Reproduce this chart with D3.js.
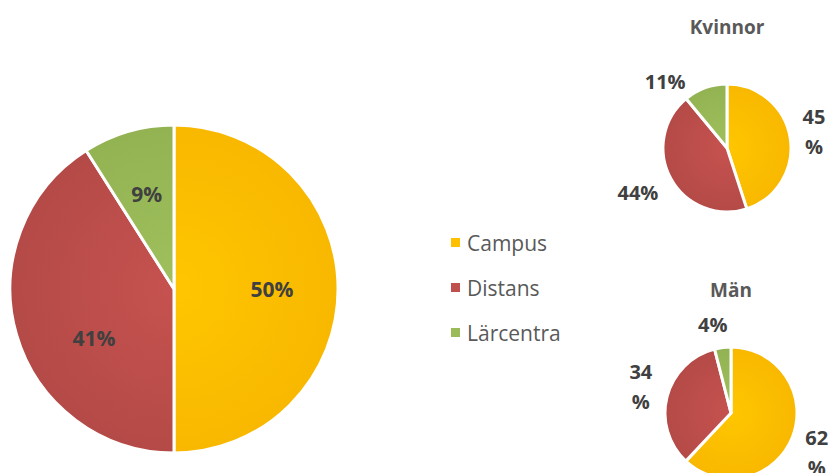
<!DOCTYPE html>
<html>

<head>
  <style>
    body,
    html {
      margin: 0;
      padding: 0;
      background: #fff;
    }

    text {
      font-family: "Open Sans", "DejaVu Sans", sans-serif;
    }
  </style>
</head>

<body>

  <svg id="svg" width="832" height="473"></svg>

  <script src="https://d3js.org/d3.v7.min.js"></script>
  <script>
    const categories = ["Campus", "Distans", "Lärcentra"]
    const totalValues = [50, 41, 9]
    const kvinnorValues = [45, 44, 11]
    const manValues = [62, 34, 4]
    const chartTitles = ["", "Kvinnor", "Män"]

    const colors = ["#FFC000", "#C0504D", "#9BBB59"]
    const edgeColors = ["#F8B800", "#B44A47", "#93B353"]

    const svg = d3.select("#svg")
    const defs = svg.append("defs")

    const color = d3.scaleOrdinal().domain(categories).range(colors)

    const pie = d3.pie().sort(null).value(d => d.value)

    function drawPie(values, opts) {
      const data = categories.map((c, i) => ({ category: c, value: values[i] }))
      const arcs = pie(data)
      const arc = d3.arc().innerRadius(0).outerRadius(opts.r)
      const labelArc = d3.arc().innerRadius(opts.labelR).outerRadius(opts.labelR)

      const g = svg.append("g").attr("transform", `translate(${opts.cx}, ${opts.cy})`)

      // soft radial shading like the office style
      categories.forEach((c, i) => {
        const rg = defs.append("radialGradient")
          .attr("id", `rg-${opts.key}-${i}`)
          .attr("gradientUnits", "userSpaceOnUse")
          .attr("cx", 0).attr("cy", 0).attr("r", opts.r)
        rg.append("stop").attr("offset", "0%").attr("stop-color", d3.color(color(c)).brighter(0.08))
        rg.append("stop").attr("offset", "100%").attr("stop-color", edgeColors[i])
      })

      g.selectAll("path")
        .data(arcs)
        .enter()
        .append("path")
        .attr("d", arc)
        .attr("fill", (d, i) => `url(#rg-${opts.key}-${i})`)
        .attr("stroke", "#fff")
        .attr("stroke-width", opts.stroke)
        .attr("stroke-linejoin", "round")

      const labels = g.selectAll("text.lbl")
        .data(arcs)
        .enter()
        .append("text")
        .attr("class", "lbl")
        .attr("text-anchor", "middle")
        .attr("font-weight", "bold")
        .attr("font-size", opts.fontSize)
        .attr("fill", "#404040")
        .attr("transform", d => {
          const [x, y] = labelArc.centroid(d)
          const n = (opts.nudge && opts.nudge[d.data.category]) || [0, 0]
          return `translate(${x + n[0]}, ${y + n[1]})`
        })

      labels.each(function (d) {
        const wrap = opts.wrap && opts.wrap.includes(d.data.category)
        const t = d3.select(this)
        if (wrap) {
          t.append("tspan").attr("x", 0).attr("dy", "-0.35em").text(String(d.data.value))
          t.append("tspan").attr("x", 0).attr("dy", "1.5em").text("%")
        } else {
          t.append("tspan").attr("x", 0).attr("dy", "0.36em").text(d.data.value + "%")
        }
      })

      if (opts.title) {
        svg.append("text")
          .attr("x", opts.cx)
          .attr("y", opts.titleY)
          .attr("text-anchor", "middle")
          .attr("font-weight", "bold")
          .attr("font-size", 19)
          .attr("fill", "#595959")
          .text(opts.title)
      }
    }

    drawPie(totalValues, {
      key: "all", cx: 174, cy: 289, r: 164, labelR: 98, fontSize: 21, stroke: 3,
      nudge: { "Distans": [14, 22], "Lärcentra": [0, 0] }
    })

    drawPie(kvinnorValues, {
      key: "kv", cx: 727, cy: 148, r: 64, labelR: 88, fontSize: 20, stroke: 3,
      title: chartTitles[1], titleY: 34,
      wrap: ["Campus"],
      nudge: { "Campus": [0, -3], "Distans": [-12, 2], "Lärcentra": [-32, 17] }
    })

    drawPie(manValues, {
      key: "man", cx: 731, cy: 413, r: 66, labelR: 90, fontSize: 20, stroke: 3,
      title: chartTitles[2], titleY: 297,
      wrap: ["Campus", "Distans"],
      nudge: { "Campus": [2, 6], "Distans": [-3, -5], "Lärcentra": [-7, 1] }
    })

    // legend
    const legendY = d3.scalePoint().domain(categories).range([243, 333])
    const legend = svg.append("g")
    legend.selectAll("rect")
      .data(categories)
      .enter()
      .append("rect")
      .attr("x", 451)
      .attr("y", d => legendY(d) - 5)
      .attr("width", 9)
      .attr("height", 9)
      .attr("fill", d => color(d))
    legend.selectAll("text")
      .data(categories)
      .enter()
      .append("text")
      .attr("x", 467)
      .attr("y", d => legendY(d))
      .attr("dy", "0.36em")
      .attr("font-size", 21)
      .attr("fill", "#595959")
      .text(d => d)
  </script>
</body>

</html>
